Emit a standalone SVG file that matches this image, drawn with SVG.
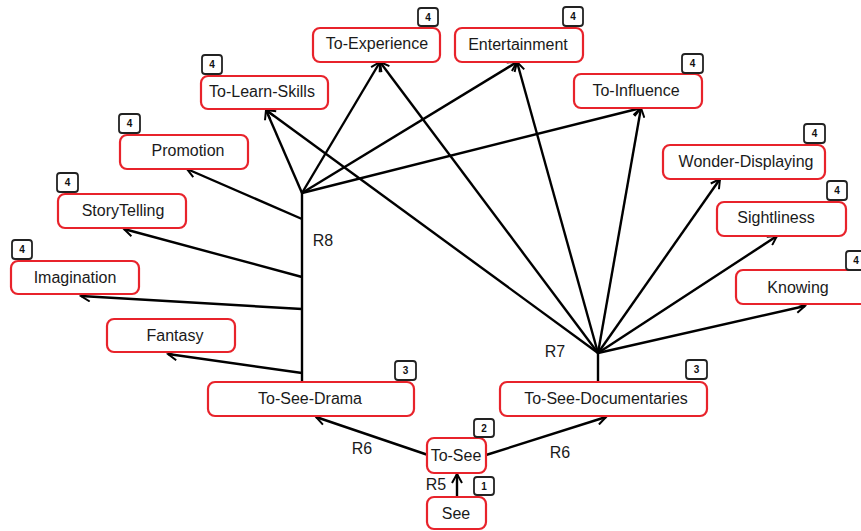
<svg xmlns="http://www.w3.org/2000/svg" width="861" height="531" viewBox="0 0 861 531">
<style>
.box{fill:#fff;stroke:#e8232b;stroke-width:2.2}
.lbl{font-family:"Liberation Sans",Arial,sans-serif;font-size:16px;fill:#1a1a1a;text-anchor:middle;dominant-baseline:central}
.bdg{fill:#fff;stroke:#222;stroke-width:1.8}
.bt{font-family:"Liberation Sans",Arial,sans-serif;font-size:10px;font-weight:bold;fill:#111;text-anchor:middle;dominant-baseline:central}
.c{stroke:#000;stroke-width:2.4;fill:none}
.a{marker-end:url(#arr)}
.r{font-family:"Liberation Sans",Arial,sans-serif;font-size:16px;fill:#1a1a1a;text-anchor:middle;dominant-baseline:central}
</style>
<defs>
<marker id="arr" markerWidth="12" markerHeight="12" refX="10" refY="6" orient="auto" markerUnits="userSpaceOnUse">
<path d="M1,1 L10,6 L1,11" fill="none" stroke="#000" stroke-width="2"/>
</marker>
</defs>
<rect width="861" height="531" fill="#fff"/>
<g id="connectors">
<line class="c a" x1="457" y1="497" x2="457" y2="474"/>
<line class="c a" x1="428" y1="455" x2="316" y2="417"/>
<line class="c a" x1="486" y1="455" x2="606" y2="417"/>
<line class="c" x1="302" y1="382" x2="302" y2="192"/>
<line class="c a" x1="302" y1="373" x2="168" y2="354"/>
<line class="c a" x1="302" y1="309" x2="81" y2="296"/>
<line class="c a" x1="302" y1="277" x2="124" y2="229"/>
<line class="c a" x1="302" y1="219" x2="187" y2="169"/>
<line class="c a" x1="302" y1="193" x2="266" y2="110"/>
<line class="c a" x1="302" y1="193" x2="380" y2="62"/>
<line class="c a" x1="302" y1="193" x2="517" y2="62"/>
<line class="c a" x1="302" y1="193" x2="641" y2="108"/>
<line class="c" x1="598" y1="382" x2="598" y2="353"/>
<line class="c a" x1="598" y1="353" x2="266" y2="110"/>
<line class="c a" x1="598" y1="353" x2="380" y2="62"/>
<line class="c a" x1="598" y1="353" x2="517" y2="62"/>
<line class="c a" x1="598" y1="353" x2="641" y2="108"/>
<line class="c a" x1="598" y1="353" x2="720" y2="179"/>
<line class="c a" x1="598" y1="353" x2="777" y2="236"/>
<line class="c a" x1="598" y1="353" x2="805" y2="306"/>
<text class="r" x="323" y="240">R8</text>
<text class="r" x="555" y="351">R7</text>
<text class="r" x="362" y="448">R6</text>
<text class="r" x="560" y="452">R6</text>
<text class="r" x="436" y="484">R5</text>
</g>
<g id="see"><rect class="box" x="427" y="497" width="59" height="32" rx="7"/><text class="lbl" x="456" y="513">See</text><rect class="bdg" x="474" y="477" width="20" height="18" rx="3"/><text class="bt" x="484" y="486">1</text></g>
<g id="to-see"><rect class="box" x="427" y="438" width="59" height="35" rx="7"/><text class="lbl" x="456" y="455">To-See</text><rect class="bdg" x="474" y="419" width="20" height="18" rx="3"/><text class="bt" x="484" y="428">2</text></g>
<g id="to-see-drama"><rect class="box" x="208" y="382" width="206" height="34" rx="7"/><text class="lbl" x="310" y="398">To-See-Drama</text><rect class="bdg" x="395" y="361" width="21" height="19" rx="3"/><text class="bt" x="405.5" y="370.5">3</text></g>
<g id="to-see-documentaries"><rect class="box" x="500" y="382" width="207" height="34" rx="7"/><text class="lbl" x="606" y="398">To-See-Documentaries</text><rect class="bdg" x="686" y="360" width="21" height="19" rx="3"/><text class="bt" x="696.5" y="369.5">3</text></g>
<g id="fantasy"><rect class="box" x="107" y="319" width="128" height="33" rx="7"/><text class="lbl" x="175" y="335">Fantasy</text></g>
<g id="imagination"><rect class="box" x="11" y="261" width="128" height="33" rx="7"/><text class="lbl" x="75" y="277">Imagination</text><rect class="bdg" x="12" y="240" width="20" height="19" rx="3"/><text class="bt" x="22" y="249.5">4</text></g>
<g id="storytelling"><rect class="box" x="58" y="194" width="128" height="34" rx="7"/><text class="lbl" x="123" y="210">StoryTelling</text><rect class="bdg" x="57" y="173" width="21" height="19" rx="3"/><text class="bt" x="67.5" y="182.5">4</text></g>
<g id="promotion"><rect class="box" x="120" y="135" width="128" height="34" rx="7"/><text class="lbl" x="188" y="150">Promotion</text><rect class="bdg" x="119" y="114" width="21" height="19" rx="3"/><text class="bt" x="129.5" y="123.5">4</text></g>
<g id="to-learn-skills"><rect class="box" x="201" y="76" width="127" height="33" rx="7"/><text class="lbl" x="262" y="91">To-Learn-Skills</text><rect class="bdg" x="202" y="55" width="20" height="19" rx="3"/><text class="bt" x="212" y="64.5">4</text></g>
<g id="to-experience"><rect class="box" x="313" y="28" width="127" height="34" rx="7"/><text class="lbl" x="377" y="43">To-Experience</text><rect class="bdg" x="418" y="8" width="20" height="18" rx="3"/><text class="bt" x="428" y="17">4</text></g>
<g id="entertainment"><rect class="box" x="455" y="28" width="128" height="34" rx="7"/><text class="lbl" x="518" y="44">Entertainment</text><rect class="bdg" x="563" y="7" width="20" height="19" rx="3"/><text class="bt" x="573" y="16.5">4</text></g>
<g id="to-influence"><rect class="box" x="574" y="74" width="128" height="34" rx="7"/><text class="lbl" x="636" y="90">To-Influence</text><rect class="bdg" x="682" y="54" width="21" height="19" rx="3"/><text class="bt" x="692.5" y="63.5">4</text></g>
<g id="wonder-displaying"><rect class="box" x="663" y="145" width="162" height="34" rx="7"/><text class="lbl" x="746" y="161">Wonder-Displaying</text><rect class="bdg" x="804" y="124" width="21" height="19" rx="3"/><text class="bt" x="814.5" y="133.5">4</text></g>
<g id="sightliness"><rect class="box" x="717" y="202" width="129" height="34" rx="7"/><text class="lbl" x="776" y="217">Sightliness</text><rect class="bdg" x="827" y="181" width="20" height="19" rx="3"/><text class="bt" x="837" y="190.5">4</text></g>
<g id="knowing"><rect class="box" x="736" y="270" width="132" height="34" rx="7"/><text class="lbl" x="798" y="287">Knowing</text><rect class="bdg" x="846" y="251" width="20" height="19" rx="3"/><text class="bt" x="856" y="260.5">4</text></g>
</svg>
